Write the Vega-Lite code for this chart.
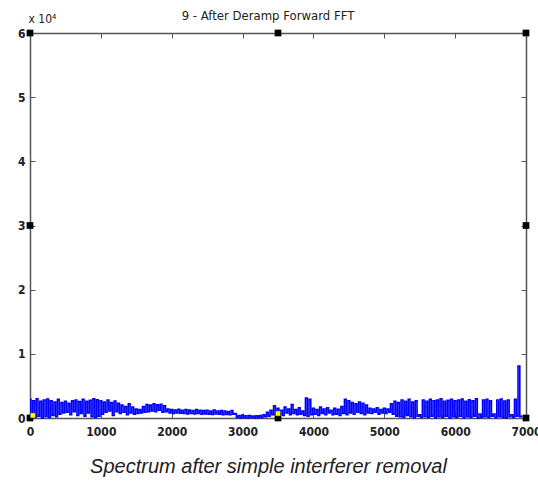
{
  "$schema": "https://vega.github.io/schema/vega-lite/v6.json",
  "width": 496,
  "height": 385,
  "autosize": {"type": "none"},
  "padding": {"left": 30, "top": 33, "right": 12, "bottom": 68},
  "background": "white",
  "config": {"view": {"stroke": null}, "font": "Liberation Sans"},
  "title": {"text": "9 - After Deramp Forward FFT", "fontSize": 13, "fontWeight": "normal", "font": "DejaVu Sans Condensed, Liberation Sans", "color": "#222222", "offset": 9, "dx": -10, "dy": 20},
  "datasets": {
    "spec": [
      {"x":0,"y":2900},{"x":25,"y":200},{"x":50,"y":2700},{"x":75,"y":100},{"x":100,"y":3000},{"x":125,"y":300},{"x":150,"y":2600},{"x":175,"y":0},{"x":200,"y":2800},{"x":225,"y":200},
      {"x":250,"y":2950},{"x":275,"y":100},{"x":300,"y":2700},{"x":325,"y":400},{"x":350,"y":2500},{"x":375,"y":200},{"x":400,"y":2900},{"x":425,"y":600},{"x":450,"y":2400},{"x":475,"y":800},
      {"x":500,"y":2600},{"x":525,"y":900},{"x":550,"y":2300},{"x":575,"y":500},{"x":600,"y":2700},{"x":625,"y":1000},{"x":650,"y":2800},{"x":675,"y":400},{"x":700,"y":2550},{"x":725,"y":700},
      {"x":750,"y":2900},{"x":775,"y":300},{"x":800,"y":2600},{"x":825,"y":800},{"x":850,"y":2750},{"x":875,"y":200},{"x":900,"y":3000},{"x":925,"y":100},{"x":950,"y":2850},{"x":975,"y":300},
      {"x":1000,"y":2700},{"x":1025,"y":600},{"x":1050,"y":2500},{"x":1075,"y":900},{"x":1100,"y":2800},{"x":1125,"y":1100},{"x":1150,"y":2400},{"x":1175,"y":400},{"x":1200,"y":2650},{"x":1225,"y":1000},
      {"x":1250,"y":2300},{"x":1275,"y":700},{"x":1300,"y":2000},{"x":1325,"y":900},{"x":1350,"y":1800},{"x":1375,"y":500},{"x":1400,"y":2200},{"x":1425,"y":800},{"x":1450,"y":1700},{"x":1475,"y":600},
      {"x":1500,"y":1400},{"x":1525,"y":700},{"x":1550,"y":1300},{"x":1575,"y":800},{"x":1600,"y":1800},{"x":1625,"y":900},{"x":1650,"y":2100},{"x":1675,"y":1000},{"x":1700,"y":2000},{"x":1725,"y":1100},
      {"x":1750,"y":2200},{"x":1775,"y":1000},{"x":1800,"y":2050},{"x":1825,"y":1200},{"x":1850,"y":2150},{"x":1875,"y":900},{"x":1900,"y":1900},{"x":1925,"y":1000},{"x":1950,"y":1400},{"x":1975,"y":800},
      {"x":2000,"y":1300},{"x":2025,"y":700},{"x":2050,"y":1250},{"x":2075,"y":800},{"x":2100,"y":1350},{"x":2125,"y":750},{"x":2150,"y":1200},{"x":2175,"y":700},{"x":2200,"y":1300},{"x":2225,"y":650},
      {"x":2250,"y":1250},{"x":2275,"y":700},{"x":2300,"y":1150},{"x":2325,"y":650},{"x":2350,"y":1300},{"x":2375,"y":700},{"x":2400,"y":1200},{"x":2425,"y":600},{"x":2450,"y":1150},{"x":2475,"y":650},
      {"x":2500,"y":1200},{"x":2525,"y":600},{"x":2550,"y":1100},{"x":2575,"y":550},{"x":2600,"y":1250},{"x":2625,"y":650},{"x":2650,"y":1100},{"x":2675,"y":600},{"x":2700,"y":1150},{"x":2725,"y":500},
      {"x":2750,"y":1100},{"x":2775,"y":550},{"x":2800,"y":1000},{"x":2825,"y":500},{"x":2850,"y":1150},{"x":2875,"y":600},{"x":2900,"y":700},{"x":2925,"y":100},{"x":2950,"y":400},{"x":2975,"y":0},
      {"x":3000,"y":450},{"x":3025,"y":50},{"x":3050,"y":350},{"x":3075,"y":0},{"x":3100,"y":400},{"x":3125,"y":100},{"x":3150,"y":300},{"x":3175,"y":0},{"x":3200,"y":350},{"x":3225,"y":50},
      {"x":3250,"y":400},{"x":3275,"y":100},{"x":3300,"y":500},{"x":3325,"y":200},{"x":3350,"y":900},{"x":3375,"y":300},{"x":3400,"y":1200},{"x":3425,"y":500},{"x":3450,"y":1900},{"x":3475,"y":400},
      {"x":3500,"y":1500},{"x":3525,"y":600},{"x":3550,"y":1200},{"x":3575,"y":400},{"x":3600,"y":1700},{"x":3625,"y":800},{"x":3650,"y":1400},{"x":3675,"y":500},{"x":3700,"y":2100},{"x":3725,"y":700},
      {"x":3750,"y":1300},{"x":3775,"y":500},{"x":3800,"y":1600},{"x":3825,"y":600},{"x":3850,"y":1100},{"x":3875,"y":400},{"x":3900,"y":3100},{"x":3925,"y":300},{"x":3950,"y":2900},{"x":3975,"y":500},
      {"x":4000,"y":1500},{"x":4025,"y":600},{"x":4050,"y":1300},{"x":4075,"y":400},{"x":4100,"y":1700},{"x":4125,"y":700},{"x":4150,"y":1400},{"x":4175,"y":500},{"x":4200,"y":1600},{"x":4225,"y":800},
      {"x":4250,"y":1200},{"x":4275,"y":500},{"x":4300,"y":1500},{"x":4325,"y":600},{"x":4350,"y":1350},{"x":4375,"y":400},{"x":4400,"y":1800},{"x":4425,"y":700},{"x":4450,"y":2900},{"x":4475,"y":500},
      {"x":4500,"y":2700},{"x":4525,"y":800},{"x":4550,"y":2400},{"x":4575,"y":600},{"x":4600,"y":2200},{"x":4625,"y":900},{"x":4650,"y":2500},{"x":4675,"y":700},{"x":4700,"y":2300},{"x":4725,"y":500},
      {"x":4750,"y":2000},{"x":4775,"y":800},{"x":4800,"y":1500},{"x":4825,"y":700},{"x":4850,"y":1400},{"x":4875,"y":900},{"x":4900,"y":1600},{"x":4925,"y":600},{"x":4950,"y":1300},{"x":4975,"y":800},
      {"x":5000,"y":1500},{"x":5025,"y":700},{"x":5050,"y":1400},{"x":5075,"y":900},{"x":5100,"y":2200},{"x":5125,"y":600},{"x":5150,"y":2600},{"x":5175,"y":300},{"x":5200,"y":2400},{"x":5225,"y":200},
      {"x":5250,"y":2800},{"x":5275,"y":100},{"x":5300,"y":2600},{"x":5325,"y":400},{"x":5350,"y":2900},{"x":5375,"y":200},{"x":5400,"y":2500},{"x":5425,"y":0},{"x":5450,"y":2700},{"x":5475,"y":300},
      {"x":5500,"y":500},{"x":5525,"y":100},{"x":5550,"y":2800},{"x":5575,"y":200},{"x":5600,"y":2600},{"x":5625,"y":100},{"x":5650,"y":2900},{"x":5675,"y":300},{"x":5700,"y":2700},{"x":5725,"y":0},
      {"x":5750,"y":2800},{"x":5775,"y":200},{"x":5800,"y":3000},{"x":5825,"y":100},{"x":5850,"y":2600},{"x":5875,"y":300},{"x":5900,"y":2750},{"x":5925,"y":0},{"x":5950,"y":2900},{"x":5975,"y":200},
      {"x":6000,"y":2700},{"x":6025,"y":100},{"x":6050,"y":2800},{"x":6075,"y":300},{"x":6100,"y":2950},{"x":6125,"y":0},{"x":6150,"y":2600},{"x":6175,"y":200},{"x":6200,"y":2850},{"x":6225,"y":100},
      {"x":6250,"y":2700},{"x":6275,"y":300},{"x":6300,"y":3000},{"x":6325,"y":0},{"x":6350,"y":600},{"x":6375,"y":100},{"x":6400,"y":2800},{"x":6425,"y":200},{"x":6450,"y":2900},{"x":6475,"y":100},
      {"x":6500,"y":2700},{"x":6525,"y":300},{"x":6550,"y":600},{"x":6575,"y":0},{"x":6600,"y":2800},{"x":6625,"y":200},{"x":6650,"y":2950},{"x":6675,"y":100},{"x":6700,"y":2650},{"x":6725,"y":0},
      {"x":6750,"y":2800},{"x":6775,"y":200},{"x":6800,"y":500},{"x":6825,"y":100},{"x":6850,"y":2900},{"x":6875,"y":300},{"x":6900,"y":8100},{"x":6925,"y":200},{"x":6950,"y":300}
    ],
    "handles": [
      {"x":0,"y":0},{"x":3500,"y":0},{"x":7000,"y":0},{"x":0,"y":30000},{"x":7000,"y":30000},{"x":0,"y":60000},{"x":3500,"y":60000},{"x":7000,"y":60000}
    ],
    "markers": [
      {"x":40,"y":400},{"x":3500,"y":700}
    ]
  },
  "layer": [
    {
      "data": {"name": "spec"},
      "mark": {"type": "line", "color": "#0000ff", "strokeWidth": 1.6, "interpolate": "step"},
      "encoding": {
        "x": {"field": "x", "type": "quantitative", "scale": {"domain": [0, 7000], "nice": false},
          "axis": {"orient": "bottom", "values": [0,1000,2000,3000,4000,5000,6000,7000], "format": "d", "grid": false,
            "domainColor": "#555555", "domainWidth": 1.5, "tickColor": "#555555", "tickSize": -5, "tickWidth": 1,
            "labelFont": "DejaVu Sans Condensed, Liberation Sans", "labelFontSize": 12, "labelFontWeight": "bold", "labelColor": "#222222", "labelPadding": 13, "labelFlush": false, "labelOverlap": false,
            "title": "Spectrum after simple interferer removal", "titleFont": "Liberation Sans", "titleFontStyle": "italic", "titleFontWeight": "normal",
            "titleFontSize": 20, "titleColor": "#222222", "titleX": 238, "titleY": 54, "titleAlign": "center", "titleBaseline": "alphabetic"}},
        "y": {"field": "y", "type": "quantitative", "scale": {"domain": [0, 60000], "nice": false},
          "axis": {"orient": "left", "values": [0,10000,20000,30000,40000,50000,60000], "labelExpr": "datum.value / 10000", "grid": false,
            "domainColor": "#555555", "domainWidth": 1.5, "tickColor": "#555555", "tickSize": -5, "tickWidth": 1,
            "labelFont": "DejaVu Sans Condensed, Liberation Sans", "labelFontSize": 12, "labelFontWeight": "bold", "labelColor": "#222222", "labelPadding": 10, "labelOverlap": false, "labelFlush": false,
            "title": "x 10⁴", "titleFont": "DejaVu Sans Condensed, Liberation Sans", "titleFontWeight": "normal", "titleFontSize": 12, "titleColor": "#222222",
            "titleAngle": 0, "titleX": -2, "titleY": -11, "titleAlign": "left", "titleBaseline": "alphabetic"}}
      }
    },
    {
      "data": {"name": "handles"},
      "mark": {"type": "square", "filled": true, "color": "#000000", "size": 45, "opacity": 1},
      "encoding": {
        "x": {"field": "x", "type": "quantitative",
          "axis": {"orient": "top", "values": [0,1000,2000,3000,4000,5000,6000,7000], "labels": false, "title": null, "grid": false,
            "domainColor": "#555555", "domainWidth": 1.5, "tickColor": "#555555", "tickSize": -5}},
        "y": {"field": "y", "type": "quantitative",
          "axis": {"orient": "right", "values": [0,10000,20000,30000,40000,50000,60000], "labels": false, "title": null, "grid": false,
            "domainColor": "#555555", "domainWidth": 1.5, "tickColor": "#555555", "tickSize": -5}}
      }
    },
    {
      "data": {"name": "markers"},
      "mark": {"type": "square", "filled": true, "color": "#ffff00", "stroke": "#444444", "strokeWidth": 0.5, "size": 25, "opacity": 1},
      "encoding": {
        "x": {"field": "x", "type": "quantitative", "axis": null},
        "y": {"field": "y", "type": "quantitative", "axis": null}
      }
    }
  ],
  "resolve": {"axis": {"x": "independent", "y": "independent"}}
}
